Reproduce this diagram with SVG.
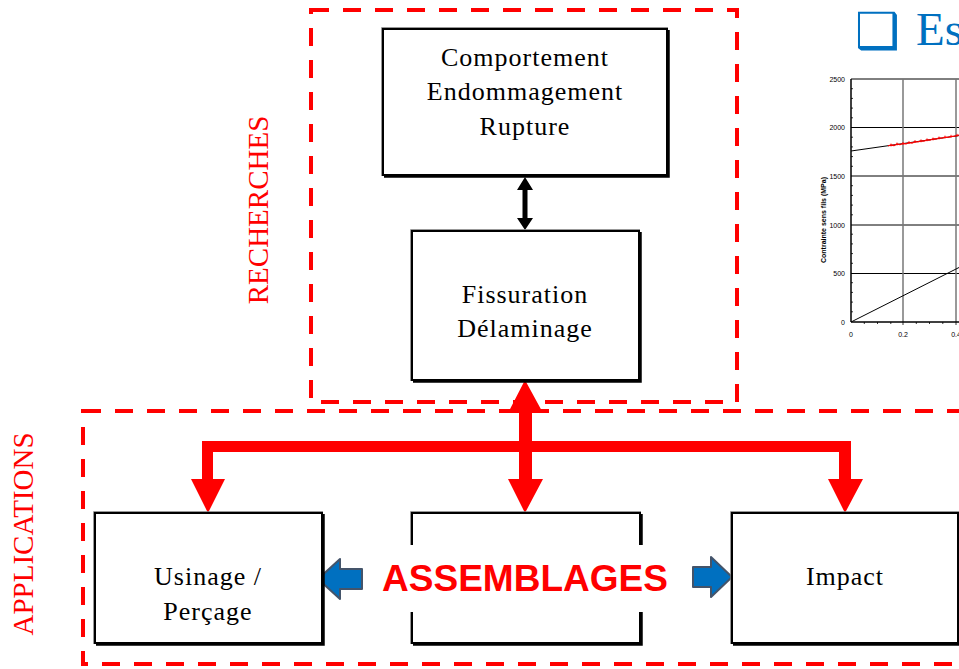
<svg xmlns="http://www.w3.org/2000/svg" width="959" height="669" viewBox="0 0 959 669">
<style>
.dash{fill:none;stroke:#FF0000;stroke-width:4;stroke-dasharray:18 14}
.box{fill:#fff;stroke:#000;stroke-width:2}
.hl{fill:none;stroke:#777;stroke-width:1.5}
.sh{fill:none;stroke:#000;stroke-width:2.5}
.lbl{font-family:"Liberation Serif",serif;font-size:26px;letter-spacing:1px;fill:#000;text-anchor:middle}
.sec{font-family:"Liberation Serif",serif;font-size:29px;fill:#FF0000;text-anchor:middle}
.red{fill:#FF0000}
.blue{fill:#0070C0;stroke:#44546A;stroke-width:2;stroke-linejoin:round}
.tk{font-family:"Liberation Sans",Arial,sans-serif;font-size:7px;fill:#000}
.grid{stroke:#000;stroke-width:1}
.vgrid{stroke:#777;stroke-width:1.5}
</style>
<rect width="959" height="669" fill="#fff"/>

<!-- chart -->
<g id="chart">
  <line class="grid" x1="851" y1="79" x2="959" y2="79"/>
  <line class="grid" x1="851" y1="127.5" x2="959" y2="127.5"/>
  <line class="grid" x1="851" y1="176" x2="959" y2="176"/>
  <line class="grid" x1="851" y1="225" x2="959" y2="225"/>
  <line class="grid" x1="851" y1="273.5" x2="959" y2="273.5"/>
  <line class="vgrid" x1="903" y1="79" x2="903" y2="322"/>
  <line class="vgrid" x1="956" y1="79" x2="956" y2="322"/>
  <line stroke="#000" stroke-width="1.5" x1="851" y1="79" x2="851" y2="322"/>
  <line stroke="#000" stroke-width="1.5" x1="851" y1="322" x2="959" y2="322"/>
  <path stroke="#000" stroke-width="0.8" d="M851,88.7h2M851,98.4h2M851,108.1h2M851,117.8h2M851,137.2h2M851,146.9h2M851,156.6h2M851,166.3h2M851,185.7h2M851,195.4h2M851,205.1h2M851,214.8h2M851,234.2h2M851,243.9h2M851,253.6h2M851,263.3h2M851,282.7h2M851,292.4h2M851,302.1h2M851,311.8h2"/>
  <path stroke="#000" stroke-width="0.8" d="M864.3,322v2M877.5,322v2M890.8,322v2M903,322v3M916.3,322v2M929.5,322v2M942.8,322v2M956,322v3"/>
  <line stroke="#000" stroke-width="1" x1="851" y1="151" x2="959" y2="135.6"/>
  <line stroke="#000" stroke-width="1" x1="851" y1="322" x2="959" y2="267.5"/>
  <polyline fill="none" stroke="#FF0000" stroke-width="1.3" points="888,146 891,145 894,145.5 897,144 900,144.6 903,143.5 906,143.8 909,142.6 912,143 915,141.6 918,141.9 921,140.8 924,141 927,139.8 930,140 933,139 936,139 939,138 942,138.2 945,137.1 948,137.4 951,136.3 954,136.4 957,135.3 959,135.2"/>
  <path stroke="#FF0000" stroke-width="0.8" d="M891,143.5v3M897,142.5v3M903,142v3M909,141v3M915,140v3M921,139.3v3M927,138.3v3M933,137.5v3M939,136.5v3M945,135.6v3M951,134.8v3M957,133.8v3"/>
  <g class="tk" text-anchor="end">
    <text x="845" y="81.5">2500</text>
    <text x="845" y="130">2000</text>
    <text x="845" y="178.5">1500</text>
    <text x="845" y="227.5">1000</text>
    <text x="845" y="276">500</text>
    <text x="845" y="324.5">0</text>
  </g>
  <g class="tk" text-anchor="middle">
    <text x="851" y="337">0</text>
    <text x="903" y="337">0.2</text>
    <text x="956" y="337">0.4</text>
  </g>
  <text class="tk" font-weight="bold" text-anchor="middle" transform="translate(825.5,220) rotate(-90)">Contrainte sens fils (MPa)</text>
</g>

<!-- title fragment -->
<g id="title">
  <text x="855" y="48" font-family="'DejaVu Sans',sans-serif" font-size="50" fill="#0070C0">❑</text>
  <text x="916" y="45" font-family="'Liberation Serif',serif" font-size="47" fill="#0070C0">Es</text>
</g>

<!-- dashed group frames -->
<g id="recherches">
  <rect class="dash" x="311" y="10" width="426" height="392"/>
  <text class="sec" transform="translate(268,210) rotate(-90)">RECHERCHES</text>
</g>
<g id="applications">
  <rect class="dash" x="83" y="411" width="900" height="253"/>
  <text class="sec" font-size="31" transform="translate(33,534) rotate(-90)">APPLICATIONS</text>
</g>

<!-- connectors -->
<g id="connectors">
  <polygon fill="#000" points="525,177 533,190 527.5,190 527.5,218 533,218 525,230 517,218 522.5,218 522.5,190 517,190"/>
  <path class="red" d="M525,380 L543,413 L532,413 L532,441 L851,441 L851,479 L863,479 L845,513 L828,479 L839,479 L839,452 L532,452 L532,479 L543,479 L525,513 L508,479 L519,479 L519,452 L213,452 L213,479 L225,479 L208,513 L191,479 L202,479 L202,441 L519,441 L519,413 L508,413 Z"/>
  <polygon class="blue" points="318,579 340,559 340,569 362,569 362,589 340,589 340,599"/>
  <polygon class="blue" points="693,567 711,567 711,557 732,577 711,597 711,587 693,587"/>
</g>

<!-- nodes -->
<g id="comportement">
  <path class="hl" d="M382,176V28H668"/>
  <rect class="box" x="383" y="29" width="284" height="146"/>
  <path class="sh" d="M384,176.5H668.5V30"/>
  <text class="lbl" x="525" y="66">Comportement</text>
  <text class="lbl" x="525" y="100">Endommagement</text>
  <text class="lbl" x="525" y="135">Rupture</text>
</g>
<g id="fissuration">
  <path class="hl" d="M411,381V230H640"/>
  <rect class="box" x="412" y="231" width="227" height="149"/>
  <path class="sh" d="M413,381.5H640.5V232"/>
  <text class="lbl" x="525" y="303">Fissuration</text>
  <text class="lbl" x="525" y="337">Délaminage</text>
</g>
<g id="usinage">
  <path class="hl" d="M94,644V512H323"/>
  <rect class="box" x="95" y="513" width="227" height="130"/>
  <path class="sh" d="M96,644.5H323.5V514"/>
  <text class="lbl" x="208" y="585">Usinage /</text>
  <text class="lbl" x="208" y="620">Perçage</text>
</g>
<g id="assemblages">
  <path class="hl" d="M411,644V512H641"/>
  <rect class="box" x="412" y="513" width="228" height="130"/>
  <path class="sh" d="M413,644.5H641.5V514"/>
  <rect x="383" y="545" width="286" height="67" fill="#fff"/>
  <text x="525" y="591" font-family="'Liberation Sans',Arial,sans-serif" font-weight="bold" font-size="37" fill="#FF0000" text-anchor="middle">ASSEMBLAGES</text>
</g>
<g id="impact">
  <path class="hl" d="M731,644V512H959"/>
  <rect class="box" x="732" y="513" width="226" height="130"/>
  <path class="sh" d="M733,644.5H959.5V514"/>
  <text class="lbl" x="845" y="585">Impact</text>
</g>
</svg>
